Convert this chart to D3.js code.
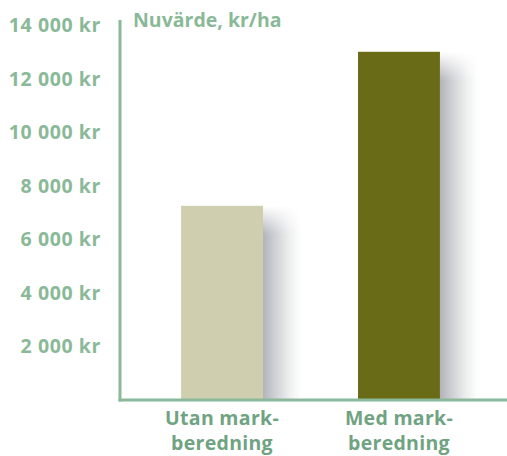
<!DOCTYPE html>
<html>
<head>
<meta charset="utf-8">
<script src="https://cdn.jsdelivr.net/npm/d3@7"></script>
<style>
	body { margin: 0; background: #fff; }
	text { font-family: 'Open Sans', sans-serif; font-weight: 700; }
</style>
</head>
<body>
<div id="chart"></div>
<script>
const categories = [['Utan mark-', 'beredning'], ['Med mark-', 'beredning']];
const values = [7250, 13000];
const barColors = ['#cfcfb0', '#6a6b16'];
const tickValues = [2000, 4000, 6000, 8000, 10000, 12000, 14000];
const title = 'Nuvärde, kr/ha';

const width = 507;
const height = 456;
const margin = { top: 25, right: 0, bottom: 56, left: 120 };
const axisColor = '#8cb89a';
const labelColor = '#8ab998';
const catColor = '#6fa381';

const svg = d3.select('#chart').append('svg')
	.attr('width', width)
	.attr('height', height);

const defs = svg.append('defs');
const grad = defs.append('linearGradient')
	.attr('id', 'shadow')
	.attr('x1', 0).attr('x2', 1).attr('y1', 0).attr('y2', 0);
grad.append('stop').attr('offset', '0%').attr('stop-color', '#b3b4ba');
grad.append('stop').attr('offset', '35%').attr('stop-color', '#d2d3d7');
grad.append('stop').attr('offset', '70%').attr('stop-color', '#eeeff0');
grad.append('stop').attr('offset', '100%').attr('stop-color', '#ffffff');

// fade the shadow in at its top
const fade = defs.append('linearGradient')
	.attr('id', 'fade')
	.attr('x1', 0).attr('x2', 0).attr('y1', 0).attr('y2', 1);
fade.append('stop').attr('offset', '0').attr('stop-color', '#000');
fade.append('stop').attr('offset', '1').attr('stop-color', '#fff');

const yScale = d3.scaleLinear()
	.domain([0, 14000])
	.range([height - margin.bottom, margin.top]);

const xScale = d3.scaleBand()
	.domain(d3.range(values.length))
	.range([117, 504])
	.paddingInner(0.537)
	.paddingOuter(0.362);

const shadowW = 38;
const fadeH = 28;

values.forEach((d, i) => {
	const x0 = xScale(i) + xScale.bandwidth();
	const y0 = yScale(d);
	const m = defs.append('mask')
		.attr('id', `m${i}`)
		.attr('maskUnits', 'userSpaceOnUse');
	m.append('rect')
		.attr('x', x0).attr('y', y0)
		.attr('width', shadowW).attr('height', fadeH)
		.attr('fill', 'url(#fade)');
	m.append('rect')
		.attr('x', x0).attr('y', y0 + fadeH - 0.5)
		.attr('width', shadowW).attr('height', yScale(0) - y0 - fadeH + 0.5)
		.attr('fill', '#fff');
});

// shadows behind bars
svg.selectAll('.shadow')
	.data(values)
	.enter().append('rect')
		.attr('class', 'shadow')
		.attr('x', (d, i) => xScale(i) + xScale.bandwidth())
		.attr('y', (d) => yScale(d))
		.attr('width', shadowW)
		.attr('height', (d) => yScale(0) - yScale(d))
		.attr('fill', 'url(#shadow)')
		.attr('mask', (d, i) => `url(#m${i})`);

svg.selectAll('.bar')
	.data(values)
	.enter().append('rect')
		.attr('class', 'bar')
		.attr('x', (d, i) => xScale(i))
		.attr('y', (d) => yScale(d))
		.attr('width', xScale.bandwidth())
		.attr('height', (d) => yScale(0) - yScale(d))
		.attr('fill', (d, i) => barColors[i]);

// axes lines
svg.append('line')
	.attr('x1', margin.left).attr('x2', margin.left)
	.attr('y1', 20).attr('y2', yScale(0) + 1.5)
	.attr('stroke', axisColor).attr('stroke-width', 3);
svg.append('line')
	.attr('x1', margin.left - 1.5).attr('x2', width)
	.attr('y1', yScale(0)).attr('y2', yScale(0))
	.attr('stroke', axisColor).attr('stroke-width', 3);

const fmt = (v) => d3.format(',')(v).replace(/,/g, ' ') + ' kr';

svg.selectAll('.tick-label')
	.data(tickValues)
	.enter().append('text')
		.attr('class', 'tick-label')
		.attr('x', 101)
		.attr('y', (d) => yScale(d))
		.attr('dy', '0.36em')
		.attr('text-anchor', 'end')
		.style('font-size', '19.5px')
		.style('letter-spacing', '0.6px')
		.style('fill', labelColor)
		.text(fmt);

svg.append('text')
	.attr('x', 133)
	.attr('y', 27)
	.style('font-size', '19.5px')
	.style('fill', labelColor)
	.text(title);

const catLabels = svg.selectAll('.cat')
	.data(categories)
	.enter().append('text')
		.attr('class', 'cat')
		.attr('text-anchor', 'middle')
		.style('font-size', '19.5px')
		.style('letter-spacing', '0.3px')
		.style('fill', catColor);
catLabels.each(function (lines, i) {
	const t = d3.select(this);
	lines.forEach((line, j) => {
		t.append('tspan')
			.attr('x', xScale(i) + xScale.bandwidth() / 2)
			.attr('y', 425 + j * 24.5)
			.text(line);
	});
});
</script>
</body>
</html>
